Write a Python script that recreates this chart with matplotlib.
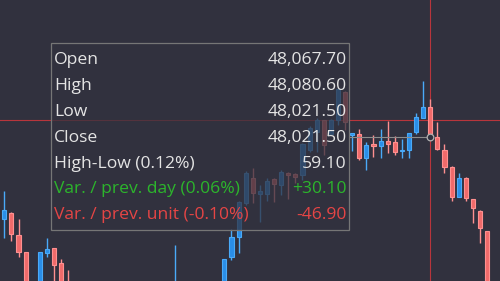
#!/usr/bin/env python3
"""
Candlestick chart with crosshair and OHLC tooltip (dark theme).
Saves out.png (500x281).
"""
import numpy as np
import matplotlib.pyplot as plt
from matplotlib.patches import Rectangle

# candle index 0..68 (left to right)
opens = [
    47895.4, 47904.7, 47870.7, 47844.5, 47770.0, 47766.0, 47843.0, 47850.7, 47827.5, 47795.0,
    47772.0, 47748.0, 47762.0, 47731.0, 47745.0, 47728.0, 47712.0, 47736.0, 47751.0, 47740.0,
    47762.0, 47755.0, 47770.0, 47758.0, 47775.0, 47790.0, 47772.0, 47760.0, 47776.0, 47765.0,
    47781.0, 47774.0, 47836.8, 47867.6, 47920.1, 47958.7, 47934.0, 47934.0, 47957.1, 47947.9,
    47966.4, 47964.1, 47963.3, 48001.9, 48029.7, 48048.2, 48026.6, 48048.2, 48091.4, 48025.8,
    48026.6, 47989.6, 48011.2, 48007.3, 48015.8, 48014.2, 47999.6, 48001.9, 48029.7, 48050.8,
    48067.7, 48021.5, 48001.9, 47976.1, 47928.9, 47958.2, 47925.8, 47908.2, 47876.9,
]
highs = [
    47938.6, 47906.2, 47895.4, 47844.5, 47792.0, 47844.5, 47866.1, 47850.7, 47833.7, 47816.7,
    47785.0, 47770.0, 47768.0, 47752.0, 47750.0, 47735.0, 47741.0, 47760.0, 47758.0, 47768.0,
    47771.0, 47778.0, 47781.0, 47782.0, 47855.3, 47794.0, 47780.0, 47784.0, 47786.0, 47790.0,
    47792.0, 47833.7, 47880.0, 47923.2, 47969.5, 47974.1, 47947.9, 47958.7, 47958.7, 47971.0,
    47968.0, 47966.4, 48012.7, 48038.9, 48051.3, 48048.2, 48049.7, 48097.6, 48092.9, 48028.1,
    48034.3, 48014.3, 48025.0, 48034.3, 48046.7, 48023.5, 48018.9, 48028.1, 48059.0, 48108.4,
    48080.6, 48045.6, 48011.2, 47977.2, 47965.9, 47960.7, 47925.8, 47909.3, 47876.9,
]
lows = [
    47866.1, 47861.5, 47836.8, 47755.0, 47748.0, 47755.0, 47836.8, 47785.9, 47770.0, 47760.0,
    47740.0, 47735.0, 47725.0, 47720.0, 47716.0, 47700.0, 47705.0, 47730.0, 47733.0, 47736.0,
    47746.0, 47750.0, 47752.0, 47752.0, 47768.0, 47765.0, 47752.0, 47755.0, 47758.0, 47760.0,
    47768.0, 47770.0, 47832.1, 47843.0, 47917.0, 47920.1, 47890.8, 47923.2, 47921.7, 47932.5,
    47926.3, 47951.0, 47955.6, 47998.8, 47998.8, 47994.2, 48025.0, 48040.5, 48032.8, 48000.4,
    47986.5, 47971.0, 47991.1, 47989.6, 47997.3, 47994.2, 47989.6, 47989.6, 48026.6, 48050.8,
    48021.5, 48001.9, 47966.4, 47923.7, 47928.9, 47923.7, 47889.7, 47857.9, 47760.0,
]
closes = [
    47909.3, 47872.3, 47844.5, 47770.0, 47766.0, 47844.5, 47849.1, 47824.4, 47778.0, 47772.0,
    47748.0, 47762.0, 47731.0, 47745.0, 47728.0, 47712.0, 47736.0, 47751.0, 47740.0, 47762.0,
    47755.0, 47770.0, 47758.0, 47775.0, 47790.0, 47772.0, 47760.0, 47776.0, 47765.0, 47781.0,
    47774.0, 47833.7, 47867.6, 47921.7, 47966.4, 47935.5, 47938.6, 47954.1, 47949.4, 47968.0,
    47963.3, 47960.2, 48011.2, 48035.9, 48048.2, 48009.6, 48048.2, 48096.0, 48045.1, 48028.1,
    47989.6, 48009.6, 48007.3, 48015.8, 48011.9, 47998.8, 48001.9, 48027.4, 48052.8, 48068.4,
    48021.5, 48003.0, 47976.1, 47929.8, 47958.2, 47927.4, 47911.9, 47881.1, 47770.0,
]

hover_idx = 60
hover_price = 48047.7
prev_day_close = 47991.4

BG = "#31313e"
UP_FILL, UP_EDGE = "#2a8ee8", "#4aaaf8"
DN_FILL, DN_EDGE = "#f06a6a", "#ff9090"
TXT = "#e4e4e4"


def fmt(v):
    return f"{v:,.2f}"


def main():
    o, h, l, c = map(np.array, (opens, highs, lows, closes))
    x = np.arange(len(o))
    up = c >= o

    fig = plt.figure(figsize=(5, 2.81), dpi=100, facecolor=BG)
    ax = fig.add_axes([0, 0, 1, 1], facecolor=BG)
    ax.set_axis_off()
    ax.set_xlim(-0.606, 69.82)
    ax.set_ylim(47799.7, 48233.4)

    # crosshair
    ax.axvline(hover_idx, color="#b8353c", lw=0.8, zorder=1)
    ax.axhline(hover_price, color="#b8353c", lw=0.8, zorder=1)

    # candles
    wick_col = np.where(up, UP_EDGE, DN_EDGE)
    ax.vlines(x, l, h, colors=wick_col, lw=1.0, zorder=2)
    body_lo = np.minimum(o, c)
    body_h = np.maximum(np.abs(c - o), 0.8)
    ax.bar(x[up], body_h[up], bottom=body_lo[up], width=0.58,
           color=UP_FILL, edgecolor=UP_EDGE, lw=0.8, zorder=3)
    ax.bar(x[~up], body_h[~up], bottom=body_lo[~up], width=0.58,
           color=DN_FILL, edgecolor=DN_EDGE, lw=0.8, zorder=3)

    # connector from tooltip to hovered close
    x_box_right = (349 - 4.3) / 7.1
    ax.plot([x_box_right, hover_idx], [c[hover_idx]] * 2, color="#8c8c8c", lw=0.8, zorder=4)
    ax.plot(hover_idx, c[hover_idx], "o", ms=4.8, mfc=BG, mec="#b0b0b0", mew=0.9, zorder=5)

    # tooltip
    ax.add_patch(Rectangle((0.1014, 0.1815), 0.5966, 0.6645, transform=ax.transAxes,
                           facecolor=BG, alpha=0.74, edgecolor="none", zorder=6))
    ax.add_patch(Rectangle((0.1014, 0.1815), 0.5966, 0.6645, transform=ax.transAxes,
                           facecolor="none", edgecolor="#767676", lw=0.9, zorder=7))

    hi, lo, cl, op = h[hover_idx], l[hover_idx], c[hover_idx], o[hover_idx]
    prev = c[hover_idx - 1]
    rows = [
        ("Open", fmt(op), TXT),
        ("High", fmt(hi), TXT),
        ("Low", fmt(lo), TXT),
        ("Close", fmt(cl), TXT),
        (f"High-Low ({(hi - lo) / cl * 100:.2f}%)", fmt(hi - lo), TXT),
        (f"Var. / prev. day ({(cl - prev_day_close) / prev_day_close * 100:.2f}%)",
         f"{cl - prev_day_close:+,.2f}", "#2cb52c"),
        (f"Var. / prev. unit ({(cl - prev) / prev * 100:.2f}%)",
         f"{cl - prev:+,.2f}", "#e54545"),
    ]
    for k, (label, val, col) in enumerate(rows):
        yb = 1 - (64.3 + 25.8 * k) / 281
        ax.text(0.108, yb, label, color=col, fontsize=12.6, family="Open Sans",
                va="baseline", ha="left", transform=ax.transAxes, zorder=8)
        ax.text(0.6934, yb, val, color=col, fontsize=12.6, family="Open Sans",
                va="baseline", ha="right", transform=ax.transAxes, zorder=8)

    fig.savefig("out.png", dpi=100, facecolor=BG)
    plt.close(fig)


if __name__ == "__main__":
    main()
